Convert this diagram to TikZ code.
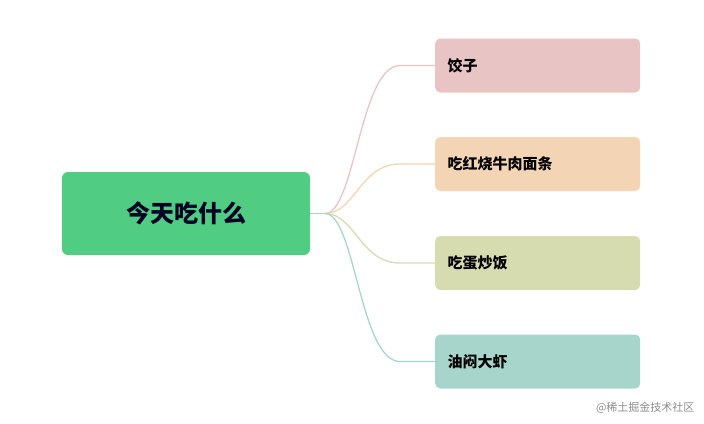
\documentclass[tikz,border=0pt]{standalone}
\usepackage{fontspec}
\setmainfont{Noto Sans CJK SC}
\begin{document}
\begin{tikzpicture}[x=1pt,y=-1pt,
  leaf/.style={rounded corners=5pt,minimum width=205pt,minimum height=54pt,anchor=west,text=black,font=\bfseries\fontsize{15}{18}\selectfont,align=left,text width=180pt,inner xsep=12pt},
  link/.style={line width=1.3pt}]
\useasboundingbox (0,0) rectangle (704,423);
\definecolor{cA}{HTML}{E8C4C4}\definecolor{cB}{HTML}{F3D5B5}
\definecolor{cC}{HTML}{D7DCB0}\definecolor{cD}{HTML}{A8D5CB}
\definecolor{rootc}{HTML}{50CD82}
\node[fill=rootc,rounded corners=6pt,minimum width=248pt,minimum height=83pt,font=\bfseries\fontsize{24}{28}\selectfont,text=black!85!blue] (root) at (186,213.5) {今天吃什么};
\coordinate (s) at (325,213.5);
\node[leaf,fill=cA] (a) at (435,65.5) {饺子};
\node[leaf,fill=cB] (b) at (435,164) {吃红烧牛肉面条};
\node[leaf,fill=cC] (c) at (435,263) {吃蛋炒饭};
\node[leaf,fill=cD] (d) at (435,361.5) {油闷大虾};
\draw[link,cD] (root.east) -- (s);
\foreach \n/\c in {a/cA,b/cB,c/cC,d/cD}{
  \draw[link,\c] (s) .. controls (355,213.5) and (360,0|-\n.west) .. ([xshift=-35pt]\n.west) -- (\n.west);
}
\node[anchor=east,text=black!45,font=\fontsize{11}{13}\selectfont] (w) at (698,408) {@稀土掘金技术社区};
\end{tikzpicture}
\end{document}
